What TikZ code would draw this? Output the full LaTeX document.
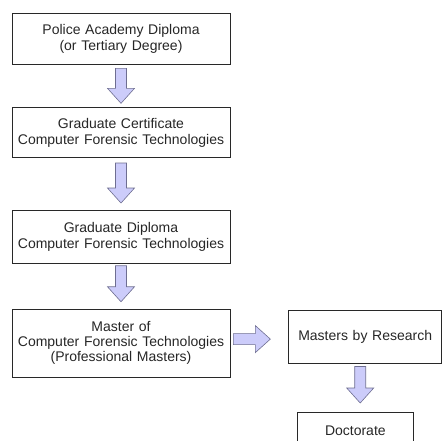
\documentclass[tikz,border=0pt]{standalone}
\usepackage{fontspec}
\setmainfont{Liberation Sans}
\usetikzlibrary{positioning, calc}

\definecolor{arrowfill}{RGB}{204,204,250}
\definecolor{arrowline}{RGB}{110,110,145}
\definecolor{boxline}{RGB}{40,40,40}

\tikzset{
  box/.style={draw=boxline, line width=0.7pt, align=center, text width=210pt,
    minimum width=218pt, inner sep=0pt, text=black!85,
    font=\fontsize{14}{16}\selectfont},
  fatarrow/.style={draw=arrowline, fill=arrowfill, line width=0.6pt, line join=miter}
}

% block arrow from #1 to the tip #2
\newcommand{\blockarrow}[2]{%
  \path (#1) coordinate (ba-s) (#2) coordinate (ba-t);
  \path ($(ba-t)!15pt!(ba-s)$) coordinate (ba-h);
  \draw[fatarrow] ($(ba-s)!5.5pt!90:(ba-t)$) -- ($(ba-h)!5.5pt!-90:(ba-s)$)
    -- ($(ba-h)!13.5pt!-90:(ba-s)$) -- (ba-t) -- ($(ba-h)!13.5pt!90:(ba-s)$)
    -- ($(ba-h)!5.5pt!90:(ba-s)$) -- ($(ba-s)!5.5pt!-90:(ba-t)$) -- cycle;}

\begin{document}
\begin{tikzpicture}[x=1pt, y=1pt]
            \clip (0,0) rectangle (442,-441);

            \node [box, minimum height=51pt] (pad) at (121,-38.5) {Police Academy Diploma\\(or Tertiary Degree)};
            \node [box, minimum height=50pt, below=43pt of pad] (gcert) {Graduate Certificate\\Computer Forensic Technologies};
            \node [box, minimum height=53pt, below=52pt of gcert] (gdip) {Graduate Diploma\\Computer Forensic Technologies};
            \node [box, minimum height=68pt, below=45pt of gdip, font=\fontsize{14}{15}\selectfont] (mcft) {Master of\\Computer Forensic Technologies\\(Professional Masters)};
            \node [box, text width=145pt, minimum width=153pt, minimum height=53pt,
                   right=58pt of mcft.north east, anchor=north west, yshift=-1pt] (mbr) {Masters by Research};
            \node [box, text width=110pt, minimum width=116pt, minimum height=36pt, anchor=north west] (doc) at (297,-412) {Doctorate};

            \blockarrow{[yshift=-4pt]pad.south}{[yshift=4pt]gcert.north}
            \blockarrow{[yshift=-5pt]gcert.south}{[yshift=7pt]gdip.north}
            \blockarrow{[yshift=-2pt]gdip.south}{[yshift=7pt]mcft.north}

            \blockarrow{[xshift=3pt,yshift=4pt]mcft.east}{[xshift=40pt,yshift=4pt]mcft.east}

            \path ([xshift=-5pt,yshift=-3pt]mbr.south) coordinate (rs);
            \path (rs |- doc.north) ++(0,9pt) coordinate (rt);
            \blockarrow{rs}{rt}
\end{tikzpicture}
\end{document}
